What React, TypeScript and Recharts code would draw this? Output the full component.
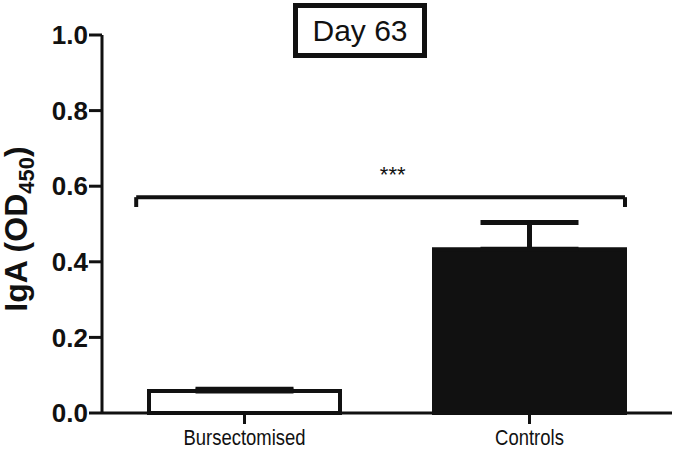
import React from 'react';
import { ComposedChart, Bar, Cell, XAxis, YAxis, ErrorBar, ReferenceLine, ReferenceDot } from 'recharts';

const categories = ['Bursectomised', 'Controls'];
const positions = [0.5, 1.5];
const means = [0.058, 0.433];
const errUp = [0.005, 0.071];
const barFills = ['#ffffff', '#111111'];
const yTicks = [0, 0.2, 0.4, 0.6, 0.8, 1.0];
// significance bracket, x in the same 0..2 units as the bars
const bracketX = [0.12, 1.835];
const bracketY = [0.545, 0.571];
const starX = 1.02;
const sigLabel = '***';
const title = 'Day 63';

const data = categories.map((c, i) => ({ name: c, pos: positions[i], value: means[i], err: [0, errUp[i]] }));

const font = 'Arial, "Liberation Sans", sans-serif';

const YLabel = () => (
  <text
    x={27}
    y={229}
    transform="rotate(-90 27 229)"
    textAnchor="middle"
    style={{ fontFamily: font, fontWeight: 700, fontSize: 32, fill: '#111' }}
  >
    IgA (OD<tspan fontSize={22} dy={7}>450</tspan>
    <tspan dy={-7}>)</tspan>
  </text>
);

// condensed look of the original's category labels
const CatTick = (props: any) => {
  const { x, y, payload } = props;
  const label = categories[positions.indexOf(payload.value)] ?? '';
  return (
    <text
      transform={`translate(${x},${y + 17}) scale(0.84,1)`}
      textAnchor="middle"
      style={{ fontFamily: font, fontSize: 22, fill: '#111' }}
    >
      {label}
    </text>
  );
};

const App = () => {
  return (
    <div style={{ position: 'absolute', left: 0, top: 0, width: 675, height: 450, background: '#fff' }}>
      <ComposedChart width={675} height={450} data={data} margin={{ top: 35, right: 3, left: 22, bottom: 7 }}>
        <XAxis
          dataKey="pos"
          type="number"
          domain={[0, 2]}
          ticks={positions}
          height={30}
          tickSize={11}
          tickMargin={4}
          tickLine={{ stroke: '#111', strokeWidth: 3 }}
          axisLine={{ stroke: '#111', strokeWidth: 3 }}
          tick={<CatTick />}
        />
        <YAxis
          width={80}
          domain={[0, 1]}
          ticks={yTicks}
          interval={0}
          tickSize={13}
          tickMargin={1}
          tickFormatter={(v: number) => v.toFixed(1)}
          tickLine={{ stroke: '#111', strokeWidth: 3 }}
          axisLine={{ stroke: '#111', strokeWidth: 3 }}
          tick={{ fill: '#111', fontSize: 26, fontWeight: 700, fontFamily: font }}
          label={<YLabel />}
        />
        <Bar dataKey="value" barSize={191} stroke="#111" strokeWidth={4} isAnimationActive={false}>
          {data.map((d, i) => (
            <Cell key={d.name} fill={barFills[i]} />
          ))}
          <ErrorBar dataKey="err" width={49} stroke="#111" strokeWidth={5} direction="y" />
        </Bar>
        <ReferenceLine
          segment={[{ x: bracketX[0], y: bracketY[1] }, { x: bracketX[1], y: bracketY[1] }]}
          stroke="#111"
          strokeWidth={4}
          ifOverflow="visible"
        />
        <ReferenceLine
          segment={[{ x: bracketX[0], y: bracketY[0] }, { x: bracketX[0], y: bracketY[1] }]}
          stroke="#111"
          strokeWidth={4}
          ifOverflow="visible"
        />
        <ReferenceLine
          segment={[{ x: bracketX[1], y: bracketY[0] }, { x: bracketX[1], y: bracketY[1] }]}
          stroke="#111"
          strokeWidth={4}
          ifOverflow="visible"
        />
        <ReferenceDot
          x={starX}
          y={bracketY[1]}
          r={1}
          stroke="none"
          fill="none"
          ifOverflow="visible"
          label={{ value: sigLabel, position: 'top', offset: 14, fill: '#111', fontSize: 22, fontFamily: font }}
        />
      </ComposedChart>
      <div
        style={{
          position: 'absolute',
          left: 293,
          top: 3,
          width: 124,
          height: 45,
          border: '5px solid #111',
          fontFamily: font,
          fontSize: 30,
          lineHeight: '45px',
          textAlign: 'center',
          color: '#111',
        }}
      >
        {title}
      </div>
    </div>
  );
};

export default App;
